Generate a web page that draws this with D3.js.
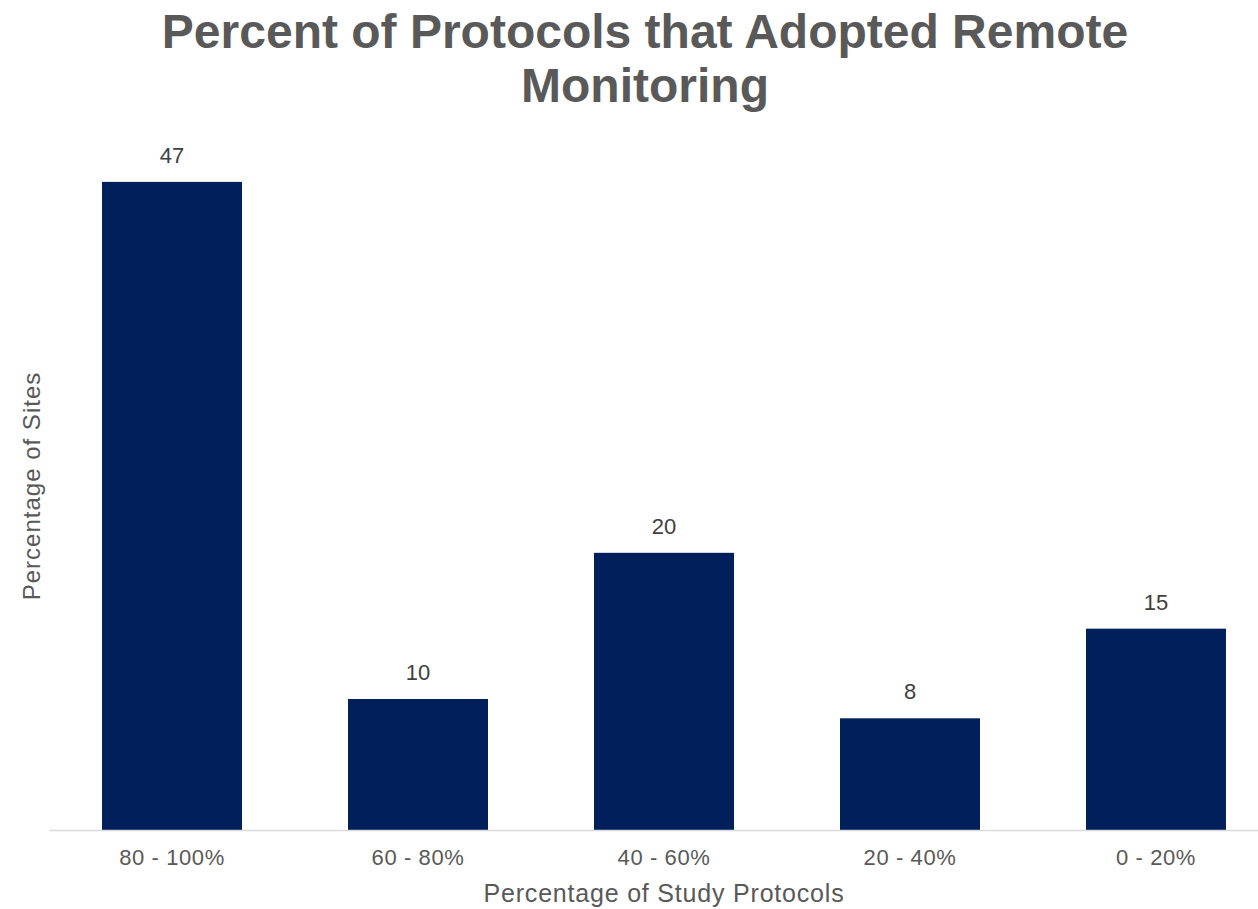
<!DOCTYPE html>
<html><head><meta charset="utf-8">
<script src="https://cdn.jsdelivr.net/npm/d3@7"></script>
<style>html,body{margin:0;padding:0;background:#fff;overflow:hidden}</style>
</head><body>
<script>
const categories = ["80 - 100%", "60 - 80%", "40 - 60%", "20 - 40%", "0 - 20%"];
const values = [47, 9.5, 20.1, 8.1, 14.6];
const labels = ["47", "10", "20", "8", "15"];
const titleLines = ["Percent of Protocols that Adopted Remote", "Monitoring"];
const xTitle = "Percentage of Study Protocols";
const yTitle = "Percentage of Sites";

const W = 1258, H = 909;
const font = "'Liberation Sans', Arial, sans-serif";
const svg = d3.select("body").append("svg").attr("width", W).attr("height", H);

const x = d3.scaleBand().domain(categories).range([49, 1279]).paddingInner(0.431).paddingOuter(0.2155);
const y = d3.scaleLinear().domain([0, 50]).range([830, 140.5]);

svg.selectAll("rect.bar").data(values).join("rect").attr("class","bar")
  .attr("x", (d,i) => x(categories[i])).attr("width", x.bandwidth())
  .attr("y", d => y(d)).attr("height", d => y(0) - y(d))
  .attr("fill", "#001f5b");

svg.selectAll("text.lbl").data(values).join("text").attr("class","lbl")
  .attr("x", (d,i) => x(categories[i]) + x.bandwidth()/2)
  .attr("y", d => y(d) - 19)
  .attr("text-anchor","middle").attr("font-family", font).attr("font-size", 22)
  .attr("fill","#404040").text((d,i) => labels[i]);

const xAxis = svg.append("g").attr("transform", `translate(0,${y(0)})`)
  .call(d3.axisBottom(x).tickSize(0).tickPadding(19));
xAxis.select(".domain").attr("stroke","#d9d9d9").attr("stroke-width",1.5);
xAxis.selectAll("text").attr("font-family", font).attr("font-size", 22)
  .attr("letter-spacing", "0.6px").attr("fill","#595959");

svg.append("text").attr("x", 664).attr("y", 902).attr("text-anchor","middle")
  .attr("font-family", font).attr("font-size", 25).attr("letter-spacing","0.8px")
  .attr("fill","#595959").text(xTitle);

svg.append("text").attr("transform","translate(40,486) rotate(-90)").attr("text-anchor","middle")
  .attr("font-family", font).attr("font-size", 24).attr("letter-spacing","1px")
  .attr("fill","#595959").text(yTitle);

svg.selectAll("text.title").data(titleLines).join("text").attr("class","title")
  .attr("x", 645).attr("y", (d,i) => 48 + i*54).attr("text-anchor","middle")
  .attr("font-family", font).attr("font-size", 48).attr("font-weight","bold")
  .attr("fill","#595959").text(d => d);
</script>
</body></html>
